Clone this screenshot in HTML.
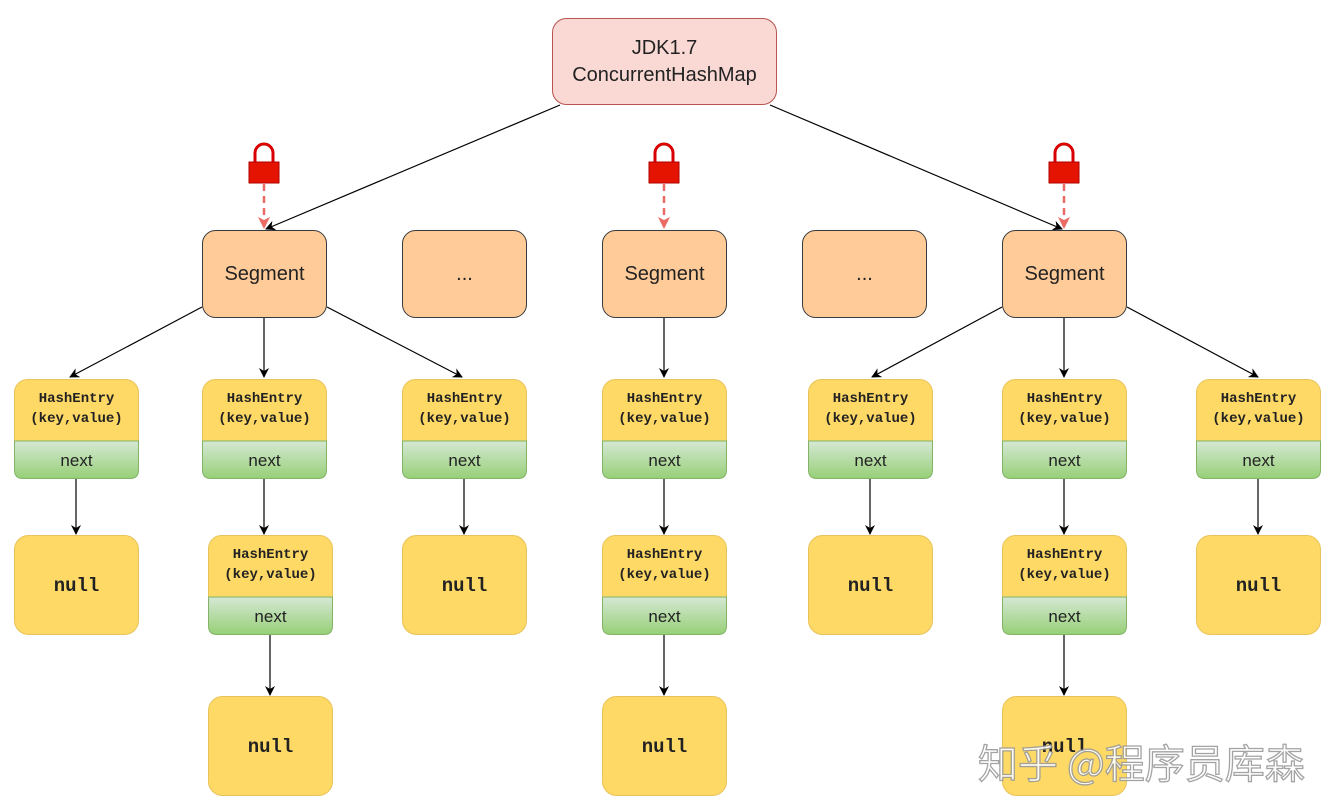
<!DOCTYPE html>
<html><head><meta charset="utf-8"><style>
html,body{margin:0;padding:0;background:#fff;}
svg{display:block}
.he{font-family:"Liberation Mono",monospace;font-weight:bold;font-size:14px;fill:#222;text-anchor:middle}
.nx{font-family:"Liberation Sans",sans-serif;font-size:17px;fill:#222;text-anchor:middle}
.nl{font-family:"Liberation Mono",monospace;font-weight:bold;font-size:19px;fill:#222;text-anchor:middle}
.sg{font-family:"Liberation Sans",sans-serif;font-size:20px;fill:#222;text-anchor:middle}
</style></head><body>
<svg width="1334" height="796" viewBox="0 0 1334 796" xmlns="http://www.w3.org/2000/svg">
<defs>
<marker id="a" markerWidth="10" markerHeight="10" refX="9" refY="5" orient="auto" markerUnits="userSpaceOnUse"><path d="M0,0 L10,5 L0,10 L3,5 Z" fill="#000"/></marker>
<marker id="r" markerWidth="12" markerHeight="12" refX="11" refY="6" orient="auto" markerUnits="userSpaceOnUse"><path d="M0,0 L12,6 L0,12 L3,6 Z" fill="#EA6B66"/></marker>
<linearGradient id="g" x1="0" y1="0" x2="0" y2="1"><stop offset="0" stop-color="#D5E8D4"/><stop offset="1" stop-color="#97D077"/></linearGradient>
<g id="lock"><path d="M-9,19 V10 A9,9 0 0 1 9,10 V19" fill="none" stroke="#D80000" stroke-width="3"/><rect x="-15" y="19" width="30" height="21" fill="#E51400" stroke="#B20000"/></g>
<g id="he"><rect x="0.5" y="0.5" width="124" height="99" rx="13" fill="#FFD966" stroke="#E8C35A"/><path d="M0.5,62 H124.5 V91 Q124.5,99.5 116,99.5 H9 Q0.5,99.5 0.5,91 Z" fill="url(#g)" stroke="#82B366"/><text class="he" x="62.5" y="23">HashEntry</text><text class="he" x="62.5" y="43">(key,value)</text><text class="nx" x="62.5" y="87">next</text></g>
<g id="nu"><rect x="0.5" y="0.5" width="124" height="99" rx="14" fill="#FFD966" stroke="#E8C35A"/><text class="nl" x="62.5" y="56">null</text></g>
<g id="sg"><rect x="0.5" y="0.5" width="124" height="87" rx="13" fill="#FFCC99" stroke="#36393D"/></g>
</defs>

<rect x="552.5" y="18.5" width="224" height="86" rx="14" fill="#FAD9D5" stroke="#B85450"/>
<text class="sg" x="664.5" y="54">JDK1.7</text>
<text class="sg" x="664.5" y="81">ConcurrentHashMap</text>

<g stroke="#000" stroke-width="1.2" fill="none" marker-end="url(#a)">
<line x1="560" y1="105" x2="266" y2="229"/>
<line x1="770" y1="105" x2="1062" y2="229"/>
<line x1="202" y1="307" x2="70" y2="377"/>
<line x1="264" y1="318" x2="264" y2="377"/>
<line x1="327" y1="307" x2="462" y2="377"/>
<line x1="664" y1="318" x2="664" y2="377"/>
<line x1="1002" y1="307" x2="872" y2="377"/>
<line x1="1064" y1="318" x2="1064" y2="377"/>
<line x1="1127" y1="307" x2="1258" y2="377"/>
<line x1="76" y1="479" x2="76" y2="534"/>
<line x1="264" y1="479" x2="264" y2="534"/>
<line x1="464" y1="479" x2="464" y2="534"/>
<line x1="664" y1="479" x2="664" y2="534"/>
<line x1="870" y1="479" x2="870" y2="534"/>
<line x1="1064" y1="479" x2="1064" y2="534"/>
<line x1="1258" y1="479" x2="1258" y2="534"/>
<line x1="270" y1="635" x2="270" y2="695"/>
<line x1="664" y1="635" x2="664" y2="695"/>
<line x1="1064" y1="635" x2="1064" y2="695"/>
</g>

<g stroke="#EA6B66" stroke-width="2.5" stroke-dasharray="7,5" fill="none" marker-end="url(#r)">
<line x1="264" y1="184" x2="264" y2="228"/>
<line x1="664" y1="184" x2="664" y2="228"/>
<line x1="1064" y1="184" x2="1064" y2="228"/>
</g>
<use href="#lock" x="264" y="143"/>
<use href="#lock" x="664" y="143"/>
<use href="#lock" x="1064" y="143"/>

<use href="#sg" x="202" y="230"/><text class="sg" x="264.5" y="280">Segment</text>
<use href="#sg" x="402" y="230"/><text class="sg" x="464.5" y="280">...</text>
<use href="#sg" x="602" y="230"/><text class="sg" x="664.5" y="280">Segment</text>
<use href="#sg" x="802" y="230"/><text class="sg" x="864.5" y="280">...</text>
<use href="#sg" x="1002" y="230"/><text class="sg" x="1064.5" y="280">Segment</text>

<use href="#he" x="14" y="379"/>
<use href="#he" x="202" y="379"/>
<use href="#he" x="402" y="379"/>
<use href="#he" x="602" y="379"/>
<use href="#he" x="808" y="379"/>
<use href="#he" x="1002" y="379"/>
<use href="#he" x="1196" y="379"/>
<use href="#he" x="208" y="535"/>
<use href="#he" x="602" y="535"/>
<use href="#he" x="1002" y="535"/>

<use href="#nu" x="14" y="535"/>
<use href="#nu" x="402" y="535"/>
<use href="#nu" x="808" y="535"/>
<use href="#nu" x="1196" y="535"/>
<use href="#nu" x="208" y="696"/>
<use href="#nu" x="602" y="696"/>
<use href="#nu" x="1002" y="696"/>

<text x="978" y="778" font-family="'Noto Sans CJK SC','WenQuanYi Zen Hei',sans-serif" font-size="40" fill="#fff" stroke="#9a9a9a" stroke-width="1.3" opacity="0.9">知乎 @程序员库森</text>
</svg>
</body></html>
